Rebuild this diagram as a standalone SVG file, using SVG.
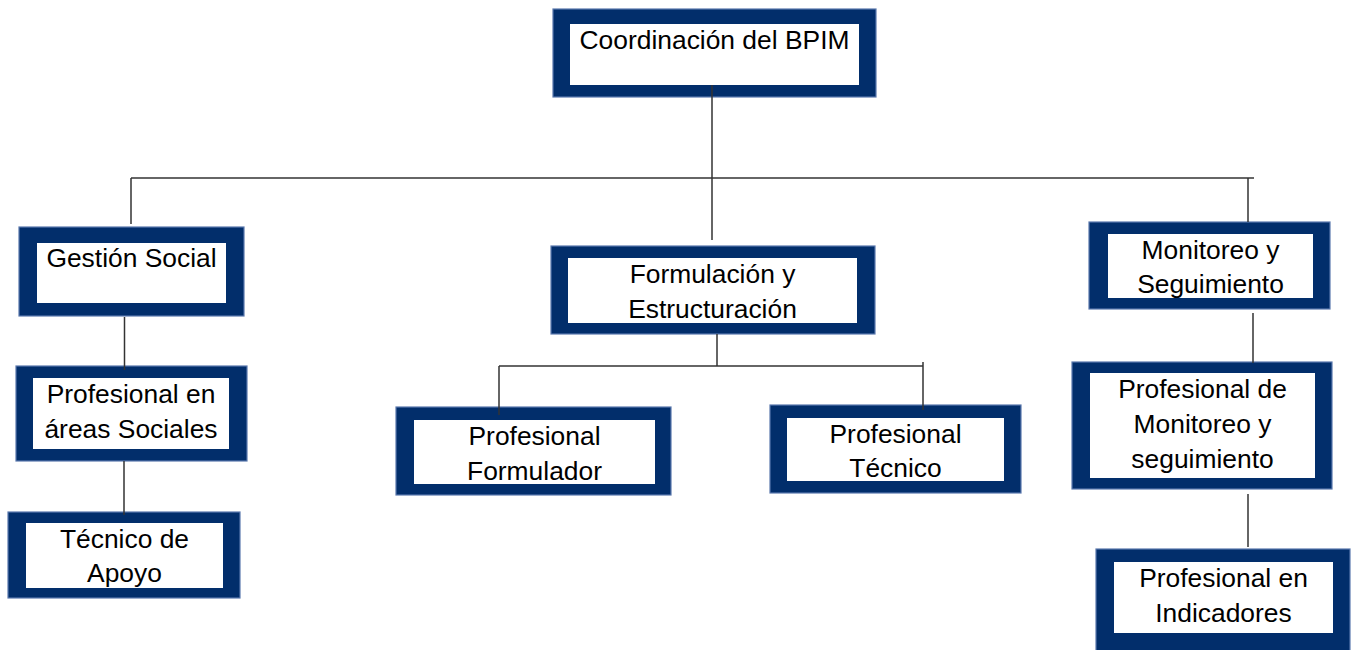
<svg xmlns="http://www.w3.org/2000/svg" width="1351" height="650" viewBox="0 0 1351 650">
<style>
.o{fill:#022e6b;stroke:#5a78ad;stroke-width:1.2}
.i{fill:#ffffff}
.t{font-family:"Liberation Sans",Arial,sans-serif;font-size:26.4px;fill:#000;text-anchor:middle}
.c{stroke:#333;stroke-width:1.5;fill:none}
</style>
<rect width="1351" height="650" fill="#fff"/>
<g id="coordinacion">
<rect class="o" x="553" y="9" width="323" height="88"/>
<rect class="i" x="570" y="24" width="289" height="61"/>
<text class="t" x="714.5" y="49">Coordinación del BPIM</text>
</g>
<g id="gestion-social">
<rect class="o" x="19" y="227" width="225" height="89"/>
<rect class="i" x="37" y="243" width="189" height="60"/>
<text class="t" x="131.5" y="267">Gestión Social</text>
</g>
<g id="profesional-areas-sociales">
<rect class="o" x="16" y="366" width="231" height="95"/>
<rect class="i" x="33" y="378" width="196" height="71"/>
<text class="t" x="131" y="403">Profesional en</text>
<text class="t" x="131" y="438">áreas Sociales</text>
</g>
<g id="tecnico-apoyo">
<rect class="o" x="8" y="512" width="232" height="86"/>
<rect class="i" x="26" y="523" width="197" height="65"/>
<text class="t" x="124.5" y="548">Técnico de</text>
<text class="t" x="124.5" y="582">Apoyo</text>
</g>
<g id="formulacion">
<rect class="o" x="551" y="246" width="324" height="88"/>
<rect class="i" x="568" y="258" width="289" height="65"/>
<text class="t" x="712.5" y="283">Formulación y</text>
<text class="t" x="712.5" y="318">Estructuración</text>
</g>
<g id="profesional-formulador">
<rect class="o" x="396" y="407" width="275" height="88"/>
<rect class="i" x="414" y="420" width="241" height="64"/>
<text class="t" x="534.5" y="445">Profesional</text>
<text class="t" x="534.5" y="480">Formulador</text>
</g>
<g id="profesional-tecnico">
<rect class="o" x="770" y="405" width="251" height="88"/>
<rect class="i" x="787" y="418" width="217" height="63"/>
<text class="t" x="895.5" y="443">Profesional</text>
<text class="t" x="895.5" y="477">Técnico</text>
</g>
<g id="monitoreo">
<rect class="o" x="1089" y="222" width="241" height="87"/>
<rect class="i" x="1108" y="234" width="205" height="64"/>
<text class="t" x="1210.5" y="259">Monitoreo y</text>
<text class="t" x="1210.5" y="293">Seguimiento</text>
</g>
<g id="profesional-monitoreo">
<rect class="o" x="1072" y="362" width="260" height="127"/>
<rect class="i" x="1090" y="373" width="225" height="105"/>
<text class="t" x="1202.5" y="398">Profesional de</text>
<text class="t" x="1202.5" y="433">Monitoreo y</text>
<text class="t" x="1202.5" y="468">seguimiento</text>
</g>
<g id="profesional-indicadores">
<rect class="o" x="1096" y="549" width="254" height="110"/>
<rect class="i" x="1114" y="562" width="219" height="71"/>
<text class="t" x="1223.5" y="587">Profesional en</text>
<text class="t" x="1223.5" y="622">Indicadores</text>
</g>
<g id="connectors">
<line class="c" x1="712" y1="85" x2="712" y2="240"/>
<line class="c" x1="131" y1="178" x2="1254" y2="178"/>
<line class="c" x1="131" y1="178" x2="131" y2="224"/>
<line class="c" x1="1248" y1="178" x2="1248" y2="222"/>
<line class="c" x1="124.5" y1="317" x2="124.5" y2="370"/>
<line class="c" x1="124" y1="461" x2="124" y2="515"/>
<line class="c" x1="717" y1="334" x2="717" y2="366"/>
<line class="c" x1="499" y1="366" x2="923" y2="366"/>
<line class="c" x1="499" y1="366" x2="499" y2="415"/>
<line class="c" x1="923" y1="362" x2="923" y2="410"/>
<line class="c" x1="1253" y1="313" x2="1253" y2="363"/>
<line class="c" x1="1248" y1="494" x2="1248" y2="547"/>
</g>
</svg>
